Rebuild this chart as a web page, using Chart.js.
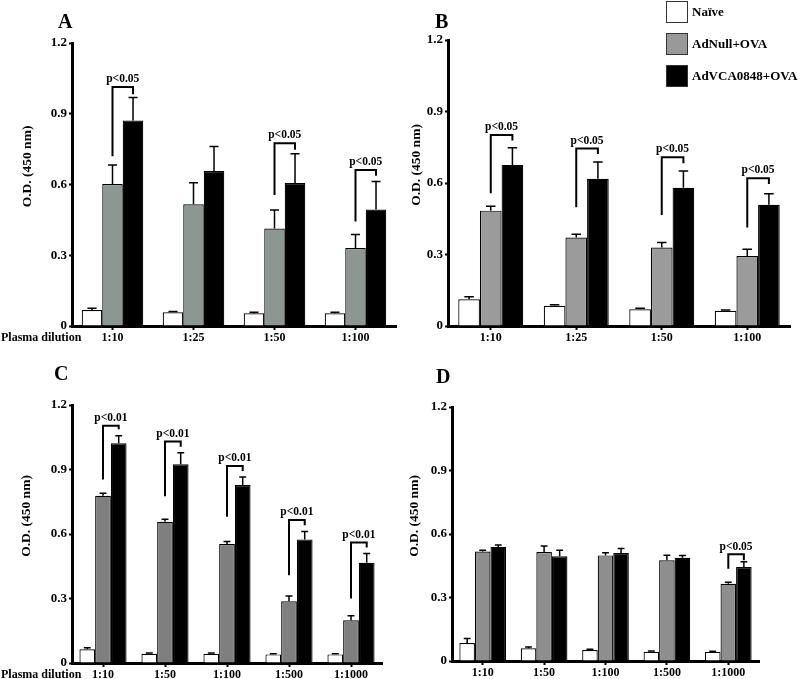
<!DOCTYPE html>
<html>
<head>
<meta charset="utf-8">
<script src="https://cdn.jsdelivr.net/npm/chart.js@4.4.1/dist/chart.umd.min.js"></script>
<style>
body{margin:0;background:#fff;width:800px;height:679px;overflow:hidden;position:relative;font-family:"Liberation Serif",serif;font-weight:bold;color:#000}
canvas{position:absolute}
.txt{position:absolute;white-space:nowrap}
.letter{font-size:20px;line-height:20px}
.dil{font-size:12px;line-height:14px}
.leg{position:absolute;left:666px;font-size:13px}
.leg span{position:absolute;left:0;top:0;width:20px;height:20px;border:1.5px solid #333}
.leg b{position:absolute;left:26px;top:3px;white-space:nowrap}
</style>
</head>
<body>
<canvas id="cA" width="400" height="350" style="left:0;top:0"></canvas>
<canvas id="cB" width="400" height="350" style="left:400px;top:0"></canvas>
<canvas id="cC" width="400" height="339" style="left:0;top:340px"></canvas>
<canvas id="cD" width="400" height="339" style="left:400px;top:340px"></canvas>
<div class="txt letter" style="left:58px;top:11px">A</div>
<div class="txt letter" style="left:435px;top:11px">B</div>
<div class="txt letter" style="left:54px;top:363px">C</div>
<div class="txt letter" style="left:436px;top:366px">D</div>
<div class="txt dil" style="left:1px;top:330px">Plasma dilution</div>
<div class="txt dil" style="left:1px;top:667px">Plasma dilution</div>
<div id="legend"></div>
<script>
var seriesNames = ['Naïve', 'AdNull+OVA', 'AdVCA0848+OVA'];
var legendColors = ['#ffffff', '#999999', '#000000'];
var yTickLabels = ['0', '0.3', '0.6', '0.9', '1.2'];
var yTitle = 'O.D. (450 nm)';

// panel A
var labelsA = ['1:10', '1:25', '1:50', '1:100'];
var naiveA = [0.068, 0.058, 0.054, 0.054];
var naiveErrA = [0.007, 0.004, 0.004, 0.004];
var nullA = [0.602, 0.516, 0.413, 0.331];
var nullErrA = [0.081, 0.091, 0.079, 0.057];
var vcaA = [0.871, 0.657, 0.606, 0.494];
var vcaErrA = [0.098, 0.104, 0.124, 0.119];
var sigA = [
  {cat: 0, text: 'p<0.05', top: 1.013, left: 0.72, right: 0.983},
  {cat: 2, text: 'p<0.05', top: 0.775, left: 0.556, right: 0.747},
  {cat: 3, text: 'p<0.05', top: 0.662, left: 0.443, right: 0.637}
];

// panel B
var labelsB = ['1:10', '1:25', '1:50', '1:100'];
var naiveB = [0.112, 0.085, 0.070, 0.064];
var naiveErrB = [0.011, 0.004, 0.004, 0.003];
var nullB = [0.484, 0.371, 0.329, 0.294];
var nullErrB = [0.018, 0.014, 0.021, 0.028];
var vcaB = [0.676, 0.618, 0.580, 0.509];
var vcaErrB = [0.072, 0.070, 0.070, 0.046];
var sigB = [
  {cat: 0, text: 'p<0.05', top: 0.801, left: 0.557, right: 0.778},
  {cat: 1, text: 'p<0.05', top: 0.745, left: 0.498, right: 0.722},
  {cat: 2, text: 'p<0.05', top: 0.708, left: 0.466, right: 0.683},
  {cat: 3, text: 'p<0.05', top: 0.620, left: 0.413, right: 0.596}
];

// panel C
var labelsC = ['1:10', '1:50', '1:100', '1:500', '1:1000'];
var naiveC = [0.064, 0.043, 0.043, 0.040, 0.040];
var naiveErrC = [0.007, 0.003, 0.003, 0.003, 0.003];
var nullC = [0.778, 0.657, 0.553, 0.287, 0.199];
var nullErrC = [0.012, 0.012, 0.012, 0.025, 0.021];
var vcaC = [1.022, 0.924, 0.828, 0.575, 0.466];
var vcaErrC = [0.035, 0.054, 0.037, 0.037, 0.043];
var sigC = [
  {cat: 0, text: 'p<0.01', top: 1.104, left: 0.854, right: 1.087},
  {cat: 1, text: 'p<0.01', top: 1.030, left: 0.776, right: 1.006},
  {cat: 2, text: 'p<0.01', top: 0.916, left: 0.680, right: 0.893},
  {cat: 3, text: 'p<0.01', top: 0.665, left: 0.408, right: 0.641},
  {cat: 4, text: 'p<0.01', top: 0.560, left: 0.300, right: 0.537}
];

// panel D
var labelsD = ['1:10', '1:50', '1:100', '1:500', '1:1000'];
var naiveD = [0.085, 0.060, 0.052, 0.044, 0.043];
var naiveErrD = [0.021, 0.006, 0.004, 0.003, 0.003];
var nullD = [0.517, 0.515, 0.499, 0.476, 0.365];
var nullErrD = [0.006, 0.028, 0.013, 0.024, 0.007];
var vcaD = [0.539, 0.495, 0.510, 0.488, 0.444];
var vcaErrD = [0.009, 0.028, 0.021, 0.011, 0.025];
var sigD = [
  {cat: 4, text: 'p<0.05', top: 0.504, left: 0.436, right: 0.476}
];

var FONT = '"Liberation Serif", "Times New Roman", serif';

// error bars (upper only) and the significance brackets
var extrasPlugin = {
  id: 'extras',
  afterDatasetsDraw: function(chart) {
    var ctx = chart.ctx;
    var ys = chart.scales.y;
    ctx.save();
    ctx.strokeStyle = '#000';
    ctx.lineWidth = 1.5;
    chart.data.datasets.forEach(function(ds, i) {
      var meta = chart.getDatasetMeta(i);
      meta.data.forEach(function(bar, j) {
        var top = ys.getPixelForValue(ds.data[j] + ds.errors[j]);
        var cap = bar.width * 0.22;
        ctx.beginPath();
        ctx.moveTo(bar.x, bar.y);
        ctx.lineTo(bar.x, top);
        ctx.moveTo(bar.x - cap, top);
        ctx.lineTo(bar.x + cap, top);
        ctx.stroke();
      });
    });
    var sig = chart.options.plugins.extras.sig;
    ctx.lineWidth = 2;
    ctx.fillStyle = '#000';
    ctx.font = 'bold 11.5px ' + FONT;
    ctx.textAlign = 'center';
    ctx.textBaseline = 'bottom';
    sig.forEach(function(s) {
      var x1 = chart.getDatasetMeta(1).data[s.cat].x;
      var x2 = chart.getDatasetMeta(2).data[s.cat].x;
      var yt = ys.getPixelForValue(s.top);
      ctx.beginPath();
      ctx.moveTo(x1, ys.getPixelForValue(s.left));
      ctx.lineTo(x1, yt);
      ctx.lineTo(x2, yt);
      ctx.lineTo(x2, ys.getPixelForValue(s.right));
      ctx.stroke();
      ctx.fillText(s.text, (x1 + x2) / 2, yt - 2);
    });
    // y axis title, sits a bit above the middle of the axis like the original
    var a = chart.chartArea;
    ctx.translate(chart.options.plugins.extras.titleX, (a.top + a.bottom) / 2 - 18);
    ctx.rotate(-Math.PI / 2);
    ctx.font = 'bold 13.5px ' + FONT;
    ctx.textBaseline = 'middle';
    ctx.fillText(yTitle, 0, 0);
    ctx.restore();
  }
};

function makePanel(id, labels, naive, naiveErr, adnull, adnullErr, vca, vcaErr, sig, geo) {
  return new Chart(document.getElementById(id), {
    type: 'bar',
    data: {
      labels: labels,
      datasets: [
        {label: seriesNames[0], data: naive, errors: naiveErr, backgroundColor: '#ffffff'},
        {label: seriesNames[1], data: adnull, errors: adnullErr, backgroundColor: geo.gray},
        {label: seriesNames[2], data: vca, errors: vcaErr, backgroundColor: '#000000'}
      ]
    },
    options: {
      responsive: false,
      animation: false,
      devicePixelRatio: 1,
      layout: {padding: {top: geo.top, right: geo.right, left: 0, bottom: 0}},
      datasets: {
        bar: {categoryPercentage: 0.76, barPercentage: 1, borderColor: '#000', borderWidth: 1.2}
      },
      plugins: {
        legend: {display: false},
        tooltip: {enabled: false},
        extras: {sig: sig, titleX: geo.titleX}
      },
      scales: {
        x: {
          afterFit: function(s) { s.height = geo.xh; },
          grid: {display: true, drawOnChartArea: false, offset: false, tickLength: 4, tickWidth: 2, tickColor: '#000'},
          border: {display: true, color: '#000', width: 3},
          ticks: {color: '#000', padding: 1, maxRotation: 0, font: {family: FONT, size: 12, weight: 'bold'}}
        },
        y: {
          min: 0,
          max: 1.2,
          afterFit: function(s) { s.width = geo.yw; },
          grid: {display: true, drawOnChartArea: false, tickLength: 3, tickWidth: 2, tickColor: '#000'},
          border: {display: true, color: '#000', width: 3},
          ticks: {
            stepSize: 0.3,
            color: '#000',
            padding: 2,
            font: {family: FONT, size: 13, weight: 'bold'},
            callback: function(v, i) { return yTickLabels[i]; }
          }
        }
      }
    },
    plugins: [extrasPlugin]
  });
}

makePanel('cA', labelsA, naiveA, naiveErrA, nullA, nullErrA, vcaA, vcaErrA, sigA,
  {gray: '#8e9691', top: 43, right: 4, yw: 72, xh: 24, titleX: 28});
makePanel('cB', labelsB, naiveB, naiveErrB, nullB, nullErrB, vcaB, vcaErrB, sigB,
  {gray: '#9b9b9b', top: 40, right: 10, yw: 48, xh: 24, titleX: 17});
makePanel('cC', labelsC, naiveC, naiveErrC, nullC, nullErrC, vcaC, vcaErrC, sigC,
  {gray: '#7f7f7f', top: 65, right: 18, yw: 72, xh: 16, titleX: 27});
makePanel('cD', labelsD, naiveD, naiveErrD, nullD, nullErrD, vcaD, vcaErrD, sigD,
  {gray: '#8e8e8e', top: 67, right: 41, yw: 52, xh: 18, titleX: 15});

// legend built from the series names
var legendTops = [1, 33, 65];
var lg = document.getElementById('legend');
seriesNames.forEach(function(name, i) {
  var d = document.createElement('div');
  d.className = 'leg';
  d.style.top = legendTops[i] + 'px';
  d.innerHTML = '<span style="background:' + legendColors[i] + '"></span><b>' + name + '</b>';
  lg.appendChild(d);
});
</script>
</body>
</html>
